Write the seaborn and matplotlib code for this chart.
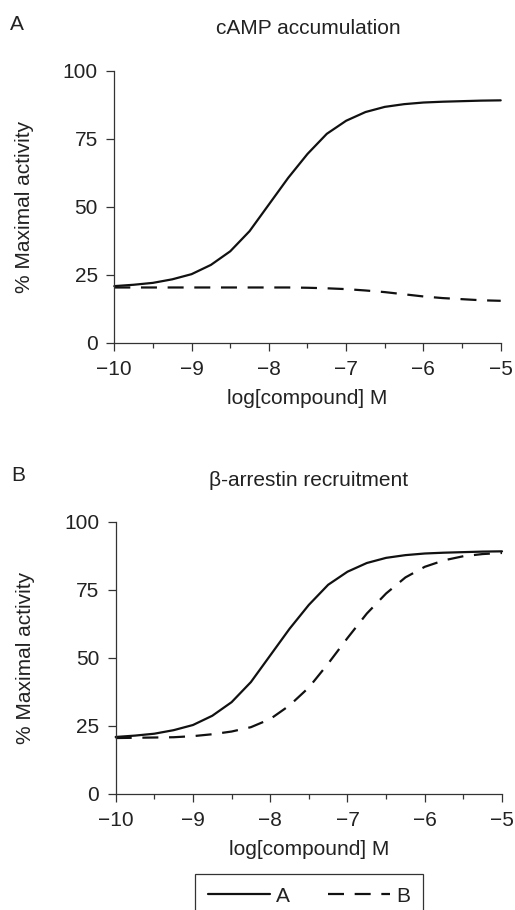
import numpy as np
import pandas as pd
import matplotlib
matplotlib.use("Agg")
import matplotlib.pyplot as plt
from matplotlib.lines import Line2D
import seaborn as sns

# ---- data ----
log_conc = [-10.0, -9.75, -9.5, -9.25, -9.0, -8.75, -8.5, -8.25, -8.0, -7.75, -7.5,
            -7.25, -7.0, -6.75, -6.5, -6.25, -6.0, -5.75, -5.5, -5.25, -5.0]

camp_A = [20.8, 21.3, 22.0, 23.3, 25.2, 28.6, 33.6, 41.0, 50.8, 60.6, 69.4,
          76.8, 81.6, 84.8, 86.7, 87.7, 88.3, 88.6, 88.8, 89.0, 89.1]
camp_B = [20.3, 20.3, 20.3, 20.3, 20.3, 20.3, 20.3, 20.3, 20.3, 20.3, 20.2,
          20.0, 19.7, 19.2, 18.6, 17.8, 17.0, 16.4, 16.0, 15.6, 15.4]

arr_A = [20.8, 21.3, 22.0, 23.3, 25.2, 28.6, 33.6, 41.0, 50.8, 60.6, 69.4,
         76.8, 81.6, 84.8, 86.7, 87.7, 88.3, 88.6, 88.8, 89.0, 89.1]
arr_B = [20.4, 20.5, 20.6, 20.7, 21.1, 21.8, 22.8, 24.4, 27.4, 32.4, 39.0,
         47.8, 57.2, 66.2, 73.6, 79.5, 83.4, 85.8, 87.3, 88.1, 88.5]

compounds = ["A", "B"]
panel_letters = ["A", "B"]
panel_titles = ["cAMP accumulation", "\u03b2-arrestin recruitment"]
y_ticks = [0, 25, 50, 75, 100]
x_ticks = [-10, -9, -8, -7, -6, -5]
x_label = "log[compound] M"
y_label = "% Maximal activity"

# ---- style ----
sns.set_style("ticks")
plt.rcParams["font.family"] = ["Liberation Sans", "DejaVu Sans"]
plt.rcParams["font.size"] = 15
plt.rcParams["axes.unicode_minus"] = True

TXT = "#222222"
LINE = "#111111"
SPINE = "#333333"
dash_pattern = (7.2, 4.8)

W, H = 515, 910
fig = plt.figure(figsize=(W / 100, H / 100), dpi=100)

def frac_box(left, top, right, bottom):
    return [left / W, 1 - bottom / H, (right - left) / W, (bottom - top) / H]

axes_boxes = [frac_box(114.3, 70.7, 500.7, 342.7),
              frac_box(115.7, 521.7, 502.0, 793.5)]
letter_pos = [(17, 24), (18, 475)]
title_pos = [(308, 28), (309, 480)]

datasets = [(camp_A, camp_B), (arr_A, arr_B)]

for i, (box, (ya, yb)) in enumerate(zip(axes_boxes, datasets)):
    ax = fig.add_axes(box)
    df = pd.DataFrame({
        "log_conc": log_conc * 2,
        "activity": list(ya) + list(yb),
        "compound": [compounds[0]] * len(log_conc) + [compounds[1]] * len(log_conc),
    })
    sns.lineplot(data=df, x="log_conc", y="activity", style="compound",
                 dashes={"A": "", "B": dash_pattern}, color=LINE,
                 linewidth=1.6, ax=ax, legend=False, clip_on=False)
    ax.set_xlim(-10, -5)
    ax.set_ylim(0, 100)
    ax.set_xticks(x_ticks)
    ax.set_xticks(np.arange(-9.5, -5, 1.0), minor=True)
    ax.set_yticks(y_ticks)
    for s in ["top", "right"]:
        ax.spines[s].set_visible(False)
    for s in ["left", "bottom"]:
        ax.spines[s].set_color(SPINE)
        ax.spines[s].set_linewidth(0.9)
    ax.tick_params(axis="both", which="major", length=6, width=0.9,
                   color=SPINE, labelcolor=TXT, labelsize=15)
    ax.tick_params(axis="x", which="major", pad=6.5)
    ax.tick_params(axis="y", which="major", pad=6.0)
    ax.tick_params(axis="x", which="minor", length=3.4, width=0.9, color=SPINE)
    ax.set_xlabel(x_label, color=TXT, fontsize=15)
    ax.set_ylabel(y_label, color=TXT, fontsize=15)
    ax.xaxis.set_label_coords(0.5, -0.171)
    ax.yaxis.set_label_coords(-0.209, 0.5)
    fig.text(letter_pos[i][0] / W, 1 - letter_pos[i][1] / H, panel_letters[i],
             ha="center", va="center", fontsize=15, color=TXT)
    fig.text(title_pos[i][0] / W, 1 - title_pos[i][1] / H, panel_titles[i],
             ha="center", va="center", fontsize=15, color=TXT)

handles = [Line2D([], [], color=LINE, linewidth=1.6),
           Line2D([], [], color=LINE, linewidth=1.6, dashes=dash_pattern)]
leg = fig.legend(handles, compounds, loc="upper left",
                 bbox_to_anchor=(195 / W, 1 - 874 / H), ncol=2,
                 frameon=True, fancybox=False, framealpha=1, edgecolor=SPINE,
                 borderaxespad=0, handlelength=3.0, handletextpad=0.3,
                 columnspacing=1.8, borderpad=0.6, fontsize=15)
leg.get_frame().set_linewidth(0.9)
for t in leg.get_texts():
    t.set_color(TXT)

fig.savefig("out.png", dpi=100)
